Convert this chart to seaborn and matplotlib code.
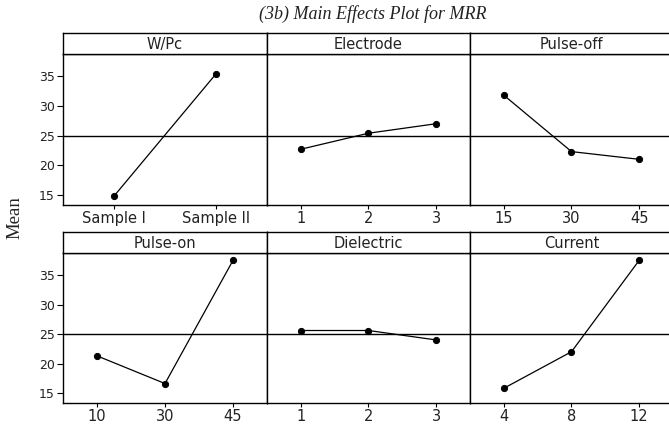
import matplotlib
matplotlib.use("Agg")
import matplotlib.pyplot as plt
import seaborn as sns
import pandas as pd

sns.set_theme(style="white")
plt.rcParams['font.family'] = ['DejaVu Sans']

# ---- data ----
factors = ["W/Pc", "Electrode", "Pulse-off", "Pulse-on", "Dielectric", "Current"]
wpc_levels = ["Sample I", "Sample II"]
wpc_means = [14.8, 35.4]
electrode_levels = ["1", "2", "3"]
electrode_means = [22.7, 25.4, 27.0]
pulseoff_levels = ["15", "30", "45"]
pulseoff_means = [31.8, 22.3, 21.0]
pulseon_levels = ["10", "30", "45"]
pulseon_means = [21.3, 16.6, 37.5]
dielectric_levels = ["1", "2", "3"]
dielectric_means = [25.6, 25.6, 24.0]
current_levels = ["4", "8", "12"]
current_means = [15.8, 22.0, 37.5]
grand_mean = 25.0
y_ticks = [15, 20, 25, 30, 35]

panels = [
    (wpc_levels, wpc_means),
    (electrode_levels, electrode_means),
    (pulseoff_levels, pulseoff_means),
    (pulseon_levels, pulseon_means),
    (dielectric_levels, dielectric_means),
    (current_levels, current_means),
]

W, H = 669, 432
fig = plt.figure(figsize=(W / 100, H / 100), dpi=100)

col_x = [63, 267, 470, 673]
rows = [(33, 54, 205), (232, 253, 403)]  # header top, plot top, plot bottom

def fx(px):
    return px / W

def fy(py):
    return 1 - py / H

for i, (name, (levels, means)) in enumerate(zip(factors, panels)):
    r, c = divmod(i, 3)
    htop, ptop, pbot = rows[r]
    x0, x1 = col_x[c], col_x[c + 1]
    ax = fig.add_axes([fx(x0), fy(pbot), fx(x1 - x0), (pbot - ptop) / H])
    df = pd.DataFrame({"level": levels, "mean": means})
    sns.pointplot(data=df, x="level", y="mean", color="black", markers="o",
                  linewidth=0.9, markersize=4.5, ax=ax, errorbar=None)
    ax.axhline(grand_mean, color="black", lw=1.0, zorder=1)
    ax.set_xlim(-0.5, len(levels) - 0.5)
    ax.set_ylim(13.3, 38.75)
    ax.set_xlabel("")
    ax.set_ylabel("")
    for s in ax.spines.values():
        s.set_color("black")
        s.set_linewidth(1.0)
    ax.tick_params(axis="x", which="both", bottom=True, length=3, width=0.8,
                   color="black", labelsize=10.5, pad=1.5, labelcolor="#222222")
    ax.set_yticks(y_ticks)
    if c == 0:
        ax.tick_params(axis="y", left=True, length=4, width=0.8, color="black",
                       labelsize=9, pad=2, labelcolor="#222222")
    else:
        ax.tick_params(axis="y", left=False, labelleft=False)
    # header strip
    hax = fig.add_axes([fx(x0), fy(ptop), fx(x1 - x0), (ptop - htop) / H])
    hax.set_xticks([])
    hax.set_yticks([])
    for s in hax.spines.values():
        s.set_color("black")
        s.set_linewidth(1.0)
    hax.set_facecolor("white")
    hax.text(0.5, 0.45, name, ha="center", va="center", fontsize=10.5,
             color="#222222", transform=hax.transAxes)

fig.text(fx(373), fy(14), "(3b) Main Effects Plot for MRR", ha="center", va="center",
         fontsize=13, style="italic", family="Liberation Serif", color="#222222")
fig.text(fx(15), fy(218), "Mean", ha="center", va="center", rotation=90,
         fontsize=13.5, family="Liberation Serif", color="#222222")

fig.savefig("out.png", dpi=100, facecolor="white")
